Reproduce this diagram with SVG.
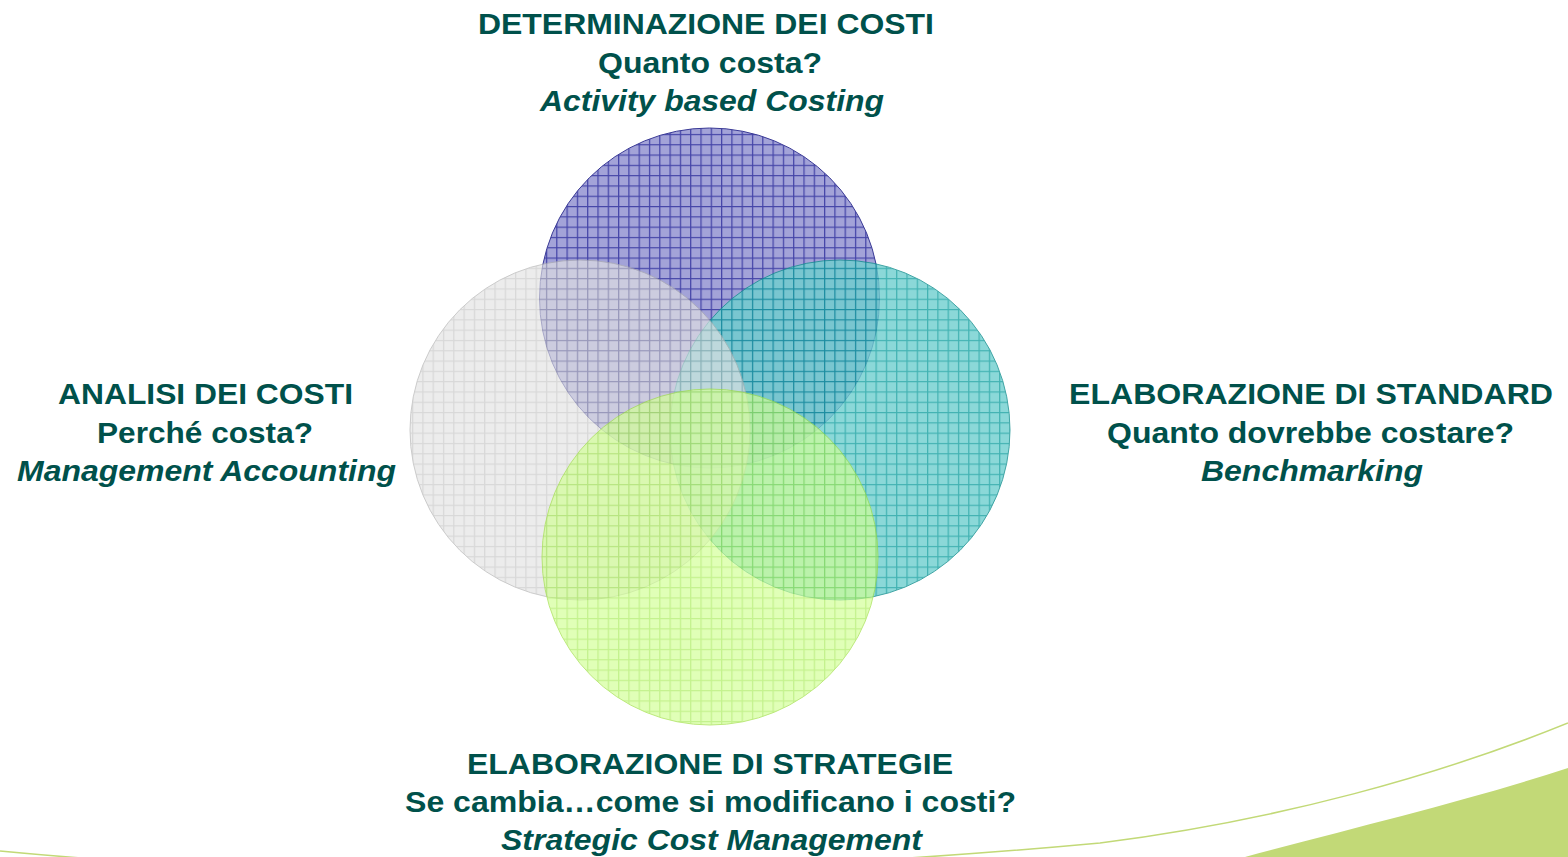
<svg xmlns="http://www.w3.org/2000/svg" width="1568" height="857" viewBox="0 0 1568 857">
<style>
  text { font-family: "Liberation Sans", Arial, sans-serif; font-weight: bold; font-size: 30px; fill: #00514b; text-anchor: middle; }
  .it { font-style: italic; }
</style>
<defs>
  <pattern id="pBlue" width="10.3" height="10.3" patternUnits="userSpaceOnUse">
    <rect width="10.3" height="10.3" fill="#a3a3d8"/>
    <path d="M0 0.6H10.3M0.6 0V10.3" stroke="#4545a8" stroke-width="1.3" fill="none"/>
  </pattern>
  <pattern id="pTeal" width="10.3" height="10.3" patternUnits="userSpaceOnUse">
    <rect width="10.3" height="10.3" fill="#6fcfcf"/>
    <path d="M0 0.6H10.3M0.6 0V10.3" stroke="#14a0a0" stroke-width="1.3" fill="none"/>
  </pattern>
  <pattern id="pGrey" width="10.3" height="10.3" patternUnits="userSpaceOnUse">
    <rect width="10.3" height="10.3" fill="#e3e3e3"/>
    <path d="M0 0.6H10.3M0.6 0V10.3" stroke="#c4c4c4" stroke-width="1.3" fill="none"/>
  </pattern>
  <pattern id="pGreen" width="10.3" height="10.3" patternUnits="userSpaceOnUse">
    <rect width="10.3" height="10.3" fill="#d2ff96"/>
    <path d="M0 0.6H10.3M0.6 0V10.3" stroke="#a8ec58" stroke-width="1.3" fill="none"/>
  </pattern>
</defs>
<rect width="1568" height="857" fill="#ffffff"/>
<g id="swoosh">
  <path d="M1245 857 C1360 826 1470 800 1568 768 L1568 857 Z" fill="#c2d977"/>
  <path d="M0 851 C300 880 700 880 1100 843 C1280 820 1440 775 1568 723" fill="none" stroke="#c2d977" stroke-width="1.5"/>
</g>
<g id="circles">
  <g id="node-top"><circle cx="709.5" cy="298" r="170" fill="url(#pBlue)" stroke="#3a3a96" stroke-width="1"/></g>
  <g id="node-right"><circle cx="840" cy="430" r="170" fill="url(#pTeal)" stroke="#118f8f" stroke-width="1" opacity="0.8"/></g>
  <g id="node-left"><circle cx="580" cy="430" r="170" fill="url(#pGrey)" stroke="#b0b0b0" stroke-width="1" opacity="0.65"/></g>
  <g id="node-bottom"><circle cx="710" cy="557" r="168" fill="url(#pGreen)" stroke="#9ee040" stroke-width="1" opacity="0.68"/></g>
</g>
<g id="label-top">
  <text x="706" y="34" textLength="456" lengthAdjust="spacingAndGlyphs">DETERMINAZIONE DEI COSTI</text>
  <text x="710" y="73" textLength="224" lengthAdjust="spacingAndGlyphs">Quanto costa?</text>
  <text x="712" y="111" class="it" textLength="344" lengthAdjust="spacingAndGlyphs">Activity based Costing</text>
</g>
<g id="label-left">
  <text x="205.5" y="404" textLength="295" lengthAdjust="spacingAndGlyphs">ANALISI DEI COSTI</text>
  <text x="205" y="443" textLength="216" lengthAdjust="spacingAndGlyphs">Perché costa?</text>
  <text x="206.5" y="481" class="it" textLength="379" lengthAdjust="spacingAndGlyphs">Management Accounting</text>
</g>
<g id="label-right">
  <text x="1311" y="404" textLength="484" lengthAdjust="spacingAndGlyphs">ELABORAZIONE DI STANDARD</text>
  <text x="1310.5" y="443" textLength="407" lengthAdjust="spacingAndGlyphs">Quanto dovrebbe costare?</text>
  <text x="1312" y="481" class="it" textLength="222" lengthAdjust="spacingAndGlyphs">Benchmarking</text>
</g>
<g id="label-bottom">
  <text x="710" y="774" textLength="486" lengthAdjust="spacingAndGlyphs">ELABORAZIONE DI STRATEGIE</text>
  <text x="710.5" y="812" textLength="611" lengthAdjust="spacingAndGlyphs">Se cambia…come si modificano i costi?</text>
  <text x="711.5" y="850" class="it" textLength="421" lengthAdjust="spacingAndGlyphs">Strategic Cost Management</text>
</g>
</svg>
